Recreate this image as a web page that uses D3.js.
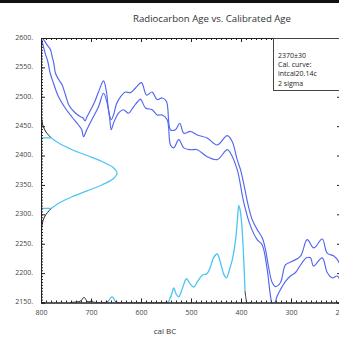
<!DOCTYPE html>
<html><head><meta charset="utf-8">
<script src="https://cdn.jsdelivr.net/npm/d3@7"></script>
<style>body{margin:0;background:#fff;overflow:hidden} svg{display:block}</style>
</head><body>
<script>
const title = "Radiocarbon Age vs. Calibrated Age";
const xLabel = "cal BC";
const xTicks = [800, 700, 600, 500, 400, 300, 200];
const yTicks = [2600, 2550, 2500, 2450, 2400, 2350, 2300, 2250, 2200, 2150];
const legendLines = ["2370\u00b130", "Cal. curve:", "intcal20.14c", "2 sigma"];

// calibration curve, upper and lower 2-sigma bounds: [cal BC, 14C age]
const curveUpper = [[799,2600],[795.6,2598],[787.6,2588],[781,2580],[777.6,2568],[774.4,2557],[771,2540],[764.4,2529],[757.6,2520],[751,2503],[744.4,2486],[734.4,2475],[721,2466],[716,2464],[712,2459],[708,2466],[694.4,2488],[685,2508],[675,2527],[669,2508],[665,2478],[659.6,2461],[655,2469],[649,2488],[641,2500],[631,2508],[621,2507],[611,2515],[599,2524],[589,2503],[577.6,2508],[567.6,2495],[557.6,2498],[549,2492],[541,2444],[531,2444],[522.4,2455],[514.4,2438],[501,2441],[487.6,2435],[467.6,2430],[447.6,2418],[427.6,2434],[417.6,2424],[407.6,2393],[401,2376],[395,2354],[385,2313],[377.6,2291],[367.6,2274],[357.6,2260],[351,2240],[345,2211],[337.6,2184],[331,2177],[321,2184],[311,2214],[297.6,2220],[281,2229],[267.6,2257],[254.4,2243],[237.6,2258],[227.6,2234],[214.4,2229],[205,2220],[199,2206]];
const curveLower = [[798.4,2597],[791.6,2574],[786.4,2560],[781.6,2540],[775,2523],[765,2500],[751.6,2481],[738.4,2466],[725,2452],[718.4,2444],[715,2432],[708.4,2444],[698.4,2461],[685,2483],[675,2506],[668.4,2492],[663,2466],[659.6,2444],[655,2455],[645,2472],[635,2478],[625,2472],[615,2483],[606.4,2492],[601,2496],[591,2481],[577.6,2478],[567.6,2469],[557.6,2469],[547.6,2461],[541,2418],[534.4,2413],[524.4,2427],[514.4,2413],[501,2410],[487.6,2410],[467.6,2398],[447.6,2393],[427.6,2410],[421,2404],[407.6,2376],[394.4,2320],[381,2280],[367.6,2257],[357.6,2248],[347.6,2206],[341,2161],[336,2141],[327.6,2161],[321,2172],[311,2186],[301,2195],[291,2201],[277.6,2218],[269,2226],[261,2226],[255,2212],[237.6,2226],[227.6,2201],[217.6,2192],[207.6,2195],[201,2186]];

// radiocarbon measurement distribution: [14C age, relative probability]
const c14Prob = [[2490,0.0003],[2480,0.001],[2470,0.004],[2460,0.011],[2450,0.028],[2440,0.066],[2430,0.135],[2420,0.249],[2410,0.411],[2400,0.607],[2390,0.801],[2380,0.946],[2370,1],[2360,0.946],[2350,0.801],[2340,0.607],[2330,0.411],[2320,0.249],[2310,0.135],[2300,0.066],[2290,0.028],[2280,0.011],[2270,0.004],[2260,0.001],[2250,0.0003]];
const c14Range = [2430, 2310];

// calibrated date distribution: [cal BC, relative probability]
const calProb = [[742,0],[730,0.005],[722,0.012],[718,0.03],[716,0.045],[714,0.054],[712,0.045],[709,0.02],[706,0.008],[702,0.01],[698,0.016],[695,0.005],[690,0],[672,0],[668,0.006],[664,0.02],[661,0.045],[658,0.058],[655,0.045],[652,0.015],[649,0.005],[645,0],[555,0],[549,0.002],[545,0.004],[539,0.08],[534.4,0.15],[530,0.09],[524.4,0.06],[517,0.15],[509,0.245],[502,0.195],[494.4,0.16],[487,0.215],[477.6,0.28],[467.6,0.30],[461,0.37],[455,0.46],[447.6,0.50],[441,0.41],[434.4,0.29],[429,0.255],[422.4,0.35],[417,0.45],[411,0.64],[407.6,0.82],[404.4,1.0],[401,0.93],[397.6,0.74],[394,0.38],[392,0.12],[390,0.04],[388,0],[380,0]];
const calRanges = [[664, 652], [545, 392]];

const W = 339, H = 338;
const mLeft = 41, mRight = 341, mTop = 38, mBottom = 302.5;
const font = "'Open Sans', 'DejaVu Sans', sans-serif";
const blue = "#5266f0", cyan = "#4cc4f2";

const svg = d3.select("body").append("svg").attr("width", W).attr("height", H);
svg.append("rect").attr("width", W).attr("height", H).attr("fill", "#fff");
svg.append("rect").attr("x", 0).attr("y", 0).attr("width", W).attr("height", 3).attr("fill", "#111");

const x = d3.scaleLinear().domain([800, 200]).range([mLeft, mRight]);
const y = d3.scaleLinear().domain([2150, 2600]).range([mBottom, mTop]);
const pC14 = d3.scaleLinear().domain([0, 1]).range([mLeft, mLeft + 76]);
const pCal = d3.scaleLinear().domain([0, 1]).range([mBottom, mBottom - 97]);

svg.append("clipPath").attr("id", "plot").append("rect")
  .attr("x", mLeft).attr("y", mTop).attr("width", mRight - mLeft).attr("height", mBottom - mTop);

const g = svg.append("g").attr("clip-path", "url(#plot)");

// calibration curve
const cLine = d3.line().x(d => x(d[0])).y(d => y(d[1])).curve(d3.curveCatmullRom);
[curveUpper, curveLower].forEach(c => {
  g.append("path").attr("d", cLine(c)).attr("fill", "none").attr("stroke", blue).attr("stroke-width", 1.15);
});

// radiocarbon distribution
const rLine = d3.line().x(d => pC14(d[1])).y(d => y(d[0])).curve(d3.curveCatmullRom);
const sLine = d3.line().x(d => pC14(d[1])).y(d => y(d[0]));
const tailHi = c14Prob.filter(d => d[0] >= c14Range[0]);
const tailLo = c14Prob.filter(d => d[0] <= c14Range[1]);
const inR = c14Prob.filter(d => d[0] <= c14Range[0] && d[0] >= c14Range[1]);
[tailHi, tailLo].forEach(t => g.append("path").attr("d", rLine(t)).attr("fill", "none").attr("stroke", "#222").attr("stroke-width", 1));
g.append("path").attr("d", sLine([[c14Range[0], 0], inR[0]]))
  .attr("fill", "none").attr("stroke", cyan).attr("stroke-width", 1.2);
g.append("path").attr("d", rLine(inR)).attr("fill", "none").attr("stroke", cyan).attr("stroke-width", 1.2);
g.append("path").attr("d", sLine([inR[inR.length - 1], [c14Range[1], 0]]))
  .attr("fill", "none").attr("stroke", cyan).attr("stroke-width", 1.2);

// calibrated distribution: black outside 2-sigma ranges, cyan inside
const pLine = d3.line().x(d => x(d[0])).y(d => pCal(d[1])).curve(d3.curveCatmullRom);
const inAny = yr => calRanges.some(r => yr < r[0] && yr > r[1]);
let segs = [], cur = [];
calProb.forEach(d => {
  if (inAny(d[0])) { if (cur.length) { segs.push(cur); cur = []; } }
  else cur.push(d);
  if (calRanges.some(r => d[0] === r[0] || d[0] === r[1])) { if (cur.length && cur[cur.length-1] !== d) cur.push(d); }
});
if (cur.length) segs.push(cur);
segs.forEach(s => {
  if (s.length > 1) g.append("path").attr("d", pLine(s)).attr("fill", "none").attr("stroke", "#333").attr("stroke-width", 1);
});
calRanges.forEach(r => {
  const seg = calProb.filter(d => d[0] <= r[0] && d[0] >= r[1]);
  g.append("path").attr("d", pLine(seg)).attr("fill", "none").attr("stroke", cyan).attr("stroke-width", 1.3);
});

// axes
const axStyle = sel => {
  sel.select(".domain").attr("stroke", "#222").attr("stroke-width", 1);
  sel.selectAll(".tick line").attr("stroke", "#222");
  sel.selectAll("text").attr("fill", "#444").attr("font-family", font).attr("font-size", 7);
};
// minor ticks
svg.append("g").attr("transform", `translate(${mLeft},0)`)
  .call(d3.axisLeft(y).tickValues(d3.range(2150, 2601, 5)).tickSize(-2).tickFormat(""))
  .call(axStyle);
svg.append("g").attr("transform", `translate(0,${mTop})`)
  .call(d3.axisTop(x).tickValues(d3.range(200, 801, 10)).tickSize(-2).tickFormat(""))
  .call(axStyle);
svg.append("g").attr("transform", `translate(0,${mBottom})`)
  .call(d3.axisBottom(x).tickValues(d3.range(200, 801, 10)).tickSize(-2).tickFormat(""))
  .call(axStyle);
// major ticks
svg.append("g").attr("transform", `translate(${mLeft},0)`)
  .call(d3.axisLeft(y).tickValues(yTicks).tickSize(-4).tickPadding(8).tickFormat(d => d + "."))
  .call(axStyle)
  .selectAll("text").attr("dy", "0.2em");
svg.append("g").attr("transform", `translate(0,${mBottom})`)
  .call(d3.axisBottom(x).tickValues(xTicks).tickSize(-4).tickPadding(8).tickFormat(d => d))
  .call(axStyle);
svg.append("g").attr("transform", `translate(0,${mTop})`)
  .call(d3.axisTop(x).tickValues(xTicks).tickSize(-4).tickFormat(""))
  .call(axStyle);
svg.append("g").attr("transform", `translate(${mRight},0)`)
  .call(d3.axisRight(y).tickValues(yTicks).tickSize(-4).tickFormat(""))
  .call(axStyle);

// title and axis label
svg.append("text").attr("x", 212).attr("y", 22).attr("text-anchor", "middle")
  .attr("font-family", font).attr("font-size", 9.6).attr("fill", "#333").text(title);
svg.append("text").attr("x", 165).attr("y", 334).attr("text-anchor", "middle")
  .attr("font-family", font).attr("font-size", 8).attr("fill", "#333").text(xLabel);

// legend box
svg.append("rect").attr("x", 273.5).attr("y", 38.5).attr("width", 80).attr("height", 52)
  .attr("fill", "#fff").attr("stroke", "#444").attr("stroke-width", 1);
legendLines.forEach((t, i) => {
  svg.append("text").attr("x", 278).attr("y", 57.5 + i * 9.4)
    .attr("font-family", font).attr("font-size", 7).attr("fill", "#222").text(t);
});
</script>
</body></html>
